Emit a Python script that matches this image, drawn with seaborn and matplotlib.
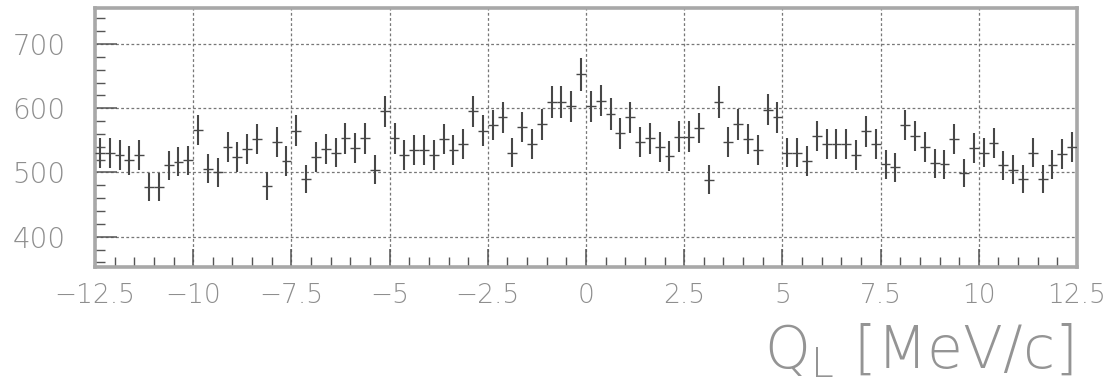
import numpy as np
import matplotlib
matplotlib.use("Agg")
import matplotlib.pyplot as plt
from matplotlib.ticker import MultipleLocator, FixedLocator
import seaborn as sns

# Histogram of Q_L: 100 bins of 0.25 MeV/c between -12.5 and 12.5
bin_lo = -12.5
bin_hi = 12.5
n_bins = 100
counts = [
    530, 530, 527, 519, 527, 477, 477, 511, 517, 519,
    566, 506, 500, 540, 524, 536, 552, 479, 548, 518,
    565, 490, 524, 536, 531, 553, 538, 553, 504, 595,
    553, 527, 535, 535, 527, 552, 535, 544, 595, 565,
    574, 586, 531, 571, 544, 575, 610, 610, 603, 653,
    603, 612, 591, 561, 586, 548, 553, 540, 526, 556,
    556, 569, 489, 610, 548, 575, 552, 535, 598, 586,
    531, 531, 518, 557, 545, 544, 545, 527, 564, 544,
    513, 508, 574, 557, 540, 514, 513, 552, 499, 538,
    531, 546, 511, 504, 490, 531, 490, 512, 529, 540,
]
x_ticks = [-12.5, -10, -7.5, -5, -2.5, 0, 2.5, 5, 7.5, 10, 12.5]
x_tick_labels = ["\u221212.5", "\u221210", "\u22127.5", "\u22125", "\u22122.5",
                 "0", "2.5", "5", "7.5", "10", "12.5"]
y_ticks = [400, 500, 600, 700]
x_title = r"Q$_{\mathregular{L}}$ [MeV/c]"

sns.set_theme(style="white")
plt.rcParams["font.family"] = ["DejaVu Sans"]
plt.rcParams["font.weight"] = "light"
plt.rcParams["mathtext.default"] = "regular"
plt.rcParams["lines.scale_dashes"] = False

edges = np.linspace(bin_lo, bin_hi, n_bins + 1)
centers = 0.5 * (edges[:-1] + edges[1:])
half_w = 0.5 * (edges[1] - edges[0])
y = np.asarray(counts, dtype=float)
yerr = np.sqrt(y)

fig = plt.figure(figsize=(11.1, 3.82), dpi=100)
ax = fig.add_axes([95 / 1110, 1 - 266.7 / 382, (1077 - 95) / 1110, (266.7 - 8.3) / 382])

# data points: sqrt(N) vertical error and bin-width horizontal bar
ax.errorbar(centers, y, yerr=yerr, fmt="none", ecolor="#474747",
            elinewidth=1.5, capsize=0, zorder=3)
ax.errorbar(centers, y, xerr=half_w, fmt="none", ecolor="#474747",
            elinewidth=1.0, capsize=0, zorder=3)

ax.set_xlim(bin_lo, bin_hi)
ax.set_ylim(353.3, 755.6)

ax.xaxis.set_major_locator(FixedLocator(x_ticks))
ax.set_xticklabels(x_tick_labels)
ax.xaxis.set_minor_locator(MultipleLocator(0.5))
ax.yaxis.set_major_locator(FixedLocator(y_ticks))
ax.yaxis.set_minor_locator(MultipleLocator(20))

ax.grid(True, which="major", color="#777777", linestyle=(0, (2.0, 1.7)),
        linewidth=0.9)
ax.set_axisbelow(True)

ax.tick_params(axis="x", which="major", direction="in", length=13, width=1.1,
               color="#555555", pad=12, labelsize=19, labelcolor="#8e8e8e",
               top=False, bottom=True)
ax.tick_params(axis="x", which="minor", direction="in", length=7, width=1.0,
               color="#555555", top=False, bottom=True)
ax.tick_params(axis="y", which="major", direction="in", length=16, width=1.1,
               color="#555555", pad=21, labelsize=20, labelcolor="#8e8e8e",
               left=True, right=False)
ax.tick_params(axis="y", which="minor", direction="in", length=7, width=1.0,
               color="#555555", left=True, right=False)

for side in ax.spines.values():
    side.set_color("#a8a8a8")
    side.set_linewidth(2.6)

fig.text(1073 / 1110, 1 - 368 / 382, x_title, ha="right", va="baseline",
         fontsize=42, color="#949494")

fig.savefig("out.png", dpi=100, facecolor="white")
